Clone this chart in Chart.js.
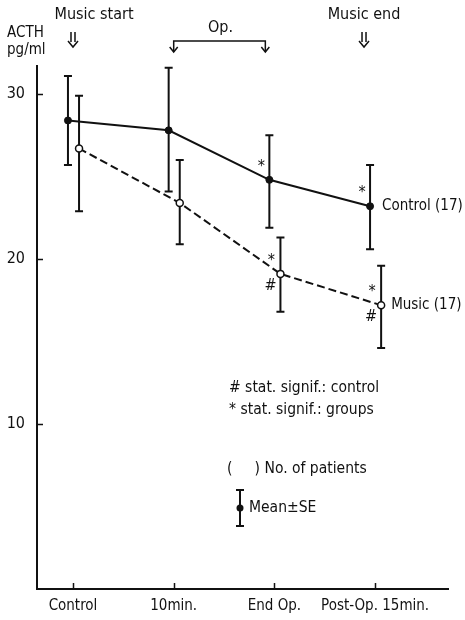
<!DOCTYPE html>
<html>
<head>
<meta charset="utf-8">
<script src="https://cdn.jsdelivr.net/npm/chart.js@4.4.1/dist/chart.umd.min.js"></script>
<style>
  html, body { margin: 0; padding: 0; background: #fff; }
  canvas { display: block; }
</style>
</head>
<body>
<canvas id="acthChart" width="465" height="620"></canvas>
<script>
// Plasma ACTH (pg/ml), mean ± SE, 17 patients per group
const categories = ['Control', '10min.', 'End Op.', 'Post-Op. 15min.'];
const yTicks = [10, 20, 30];

const controlMean = [28.4, 27.8, 24.8, 23.2];
const controlUpper = [31.1, 31.6, 27.5, 25.7];
const controlLower = [25.7, 24.1, 21.9, 20.6];

const musicMean = [26.7, 23.4, 19.1, 17.2];
const musicUpper = [29.9, 26.0, 21.3, 19.6];
const musicLower = [22.9, 20.9, 16.8, 14.6];

// Significance flags per time point
const controlStar = [false, false, true, true];
const musicStar = [false, false, true, true];
const musicHash = [false, false, true, true];

const FONT = '"Liberation Sans Narrow", "DejaVu Sans Condensed", sans-serif';
const INK = '#111';

// the two groups sit slightly apart around each time point
const CONTROL_SHIFT = -0.05;
const MUSIC_SHIFT = 0.06;

function toPoints(values, shift) {
    return values.map((v, i) => ({ x: i + 1 + shift, y: v }));
}

function text(ctx, str, x, y, size, align) {
    ctx.font = size + 'px ' + FONT;
    ctx.textAlign = align || 'left';
    ctx.textBaseline = 'middle';
    ctx.fillStyle = INK;
    ctx.fillText(str, x, y);
}

function drawErrorBars(chart, dsIndex, upper, lower) {
    const ctx = chart.ctx;
    const yScale = chart.scales.y;
    const meta = chart.getDatasetMeta(dsIndex);
    ctx.save();
    ctx.strokeStyle = INK;
    ctx.lineWidth = 2;
    meta.data.forEach((pt, i) => {
        const top = yScale.getPixelForValue(upper[i]);
        const bot = yScale.getPixelForValue(lower[i]);
        ctx.beginPath();
        ctx.moveTo(pt.x, top); ctx.lineTo(pt.x, bot);
        ctx.moveTo(pt.x - 4, top); ctx.lineTo(pt.x + 4, top);
        ctx.moveTo(pt.x - 4, bot); ctx.lineTo(pt.x + 4, bot);
        ctx.stroke();
    });
    ctx.restore();
}

function drawFlags(chart, dsIndex, flags, symbol, dx, dy) {
    const meta = chart.getDatasetMeta(dsIndex);
    meta.data.forEach((pt, i) => {
        if (flags[i]) text(chart.ctx, symbol, pt.x + dx, pt.y + dy, 16, 'center');
    });
}

function drawDownArrow(ctx, x, y0, y1) {
    ctx.beginPath();
    ctx.moveTo(x - 2, y0); ctx.lineTo(x - 2, y1 - 5);
    ctx.moveTo(x + 2, y0); ctx.lineTo(x + 2, y1 - 5);
    ctx.moveTo(x - 5, y1 - 6); ctx.lineTo(x, y1); ctx.lineTo(x + 5, y1 - 6);
    ctx.stroke();
}

function drawArrowHead(ctx, x, y) {
    ctx.beginPath();
    ctx.moveTo(x - 4, y - 5); ctx.lineTo(x, y); ctx.lineTo(x + 4, y - 5);
    ctx.stroke();
}

const decorations = {
    id: 'decorations',
    beforeDraw(chart) {
        const ctx = chart.ctx;
        ctx.save();
        ctx.fillStyle = '#fff';
        ctx.fillRect(0, 0, chart.width, chart.height);
        ctx.restore();
    },
    beforeDatasetsDraw(chart) {
        drawErrorBars(chart, 0, controlUpper, controlLower);
        drawErrorBars(chart, 1, musicUpper, musicLower);
    },
    afterDraw(chart) {
        const ctx = chart.ctx;
        const xs = chart.scales.x;
        const ys = chart.scales.y;
        const area = chart.chartArea;

        ctx.save();
        ctx.strokeStyle = INK;
        ctx.lineWidth = 1.5;

        // inward tick marks
        ctx.beginPath();
        yTicks.forEach(v => {
            const py = Math.round(ys.getPixelForValue(v)) + 0.5;
            ctx.moveTo(area.left, py); ctx.lineTo(area.left + 6, py);
        });
        categories.forEach((c, i) => {
            const px = Math.round(xs.getPixelForValue(i + 1)) + 0.5;
            ctx.moveTo(px, area.bottom); ctx.lineTo(px, area.bottom - 6);
        });
        ctx.stroke();

        // axis title
        text(ctx, 'ACTH', 7, 33, 15);
        text(ctx, 'pg/ml', 7, 50, 15);

        // music start / end and operation period
        const xStart = xs.getPixelForValue(1);
        const xEnd = xs.getPixelForValue(3.89);
        text(ctx, 'Music start', xStart + 21, 15, 16, 'center');
        text(ctx, 'Music end', xEnd, 15, 16, 'center');
        drawDownArrow(ctx, xStart, 32, 47);
        drawDownArrow(ctx, xEnd, 32, 47);

        const opL = xs.getPixelForValue(2);
        const opR = xs.getPixelForValue(2.91);
        text(ctx, 'Op.', (opL + opR) / 2 + 1, 28, 16, 'center');
        ctx.beginPath();
        ctx.moveTo(opL, 52); ctx.lineTo(opL, 41); ctx.lineTo(opR, 41); ctx.lineTo(opR, 52);
        ctx.stroke();
        drawArrowHead(ctx, opL, 52);
        drawArrowHead(ctx, opR, 52);

        // significance markers
        drawFlags(chart, 0, controlStar, '*', -8, -13);
        drawFlags(chart, 1, musicStar, '*', -9, -13);
        drawFlags(chart, 1, musicHash, '#', -10, 12);

        // series labels
        const cLast = chart.getDatasetMeta(0).data[3];
        const mLast = chart.getDatasetMeta(1).data[3];
        text(ctx, 'Control (17)', cLast.x + 12, cLast.y, 15);
        text(ctx, 'Music (17)', mLast.x + 10, mLast.y, 15);

        // key
        text(ctx, '# stat. signif.: control', 229, 388, 15.5);
        text(ctx, '* stat. signif.: groups', 229, 410, 15.5);
        text(ctx, '(     ) No. of patients', 227, 469, 15.5);

        ctx.lineWidth = 2;
        ctx.beginPath();
        ctx.moveTo(240, 490); ctx.lineTo(240, 526);
        ctx.moveTo(236, 490); ctx.lineTo(244, 490);
        ctx.moveTo(236, 526); ctx.lineTo(244, 526);
        ctx.stroke();
        ctx.beginPath();
        ctx.arc(240, 508, 3.5, 0, Math.PI * 2);
        ctx.fillStyle = INK;
        ctx.fill();
        text(ctx, 'Mean\u00B1SE', 249, 508, 15.5);

        ctx.restore();
    }
};

function initializeChart() {
    const ctx = document.getElementById('acthChart').getContext('2d');
    new Chart(ctx, {
        type: 'line',
        data: {
            datasets: [{
                label: 'Control (17)',
                data: toPoints(controlMean, CONTROL_SHIFT),
                borderColor: INK,
                borderWidth: 2,
                pointRadius: 3.5,
                pointBackgroundColor: INK,
                pointBorderColor: INK,
                pointBorderWidth: 1,
                tension: 0
            }, {
                label: 'Music (17)',
                data: toPoints(musicMean, MUSIC_SHIFT),
                borderColor: INK,
                borderWidth: 2,
                borderDash: [8, 4],
                pointRadius: 3.5,
                pointBackgroundColor: '#fff',
                pointBorderColor: INK,
                pointBorderWidth: 1.5,
                tension: 0
            }]
        },
        options: {
            responsive: false,
            animation: false,
            layout: { padding: { top: 66, right: 17, left: 0, bottom: 0 } },
            plugins: {
                legend: { display: false },
                tooltip: { enabled: false }
            },
            scales: {
                x: {
                    type: 'linear',
                    min: 0.6425,
                    max: 4.724,
                    grid: { display: false, drawTicks: false },
                    border: { display: true, color: INK, width: 2 },
                    afterBuildTicks: scale => {
                        scale.ticks = categories.map((c, i) => ({ value: i + 1 }));
                    },
                    afterFit: scale => { scale.height = 31; },
                    ticks: {
                        autoSkip: false,
                        maxRotation: 0,
                        padding: 8,
                        color: INK,
                        font: { family: FONT, size: 15 },
                        callback: value => categories[value - 1]
                    }
                },
                y: {
                    min: 0,
                    max: 31.7,
                    grid: { display: false, drawTicks: false },
                    border: { display: true, color: INK, width: 2 },
                    afterBuildTicks: scale => {
                        scale.ticks = yTicks.map(v => ({ value: v }));
                    },
                    afterFit: scale => { scale.width = 37; },
                    ticks: {
                        padding: 12,
                        color: INK,
                        font: { family: FONT, size: 16 }
                    }
                }
            }
        },
        plugins: [decorations]
    });
}

document.addEventListener('DOMContentLoaded', initializeChart);
</script>
</body>
</html>
